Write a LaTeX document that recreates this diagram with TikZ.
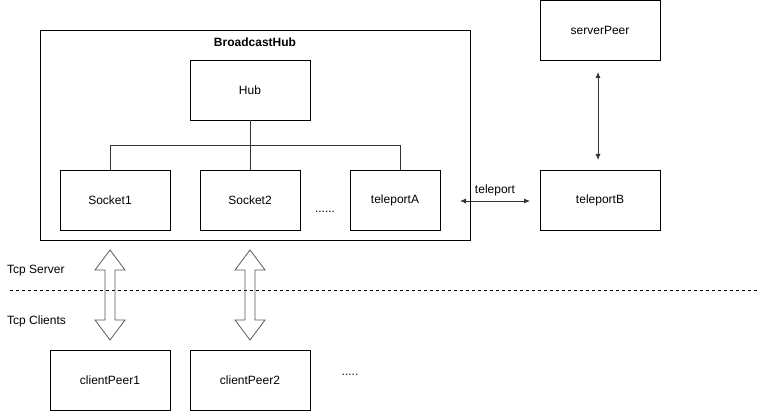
\documentclass[tikz,border=0pt]{standalone}
\usepackage{fontspec}
\setmainfont{Liberation Sans}
\usetikzlibrary{arrows.meta}
\begin{document}
\begin{tikzpicture}[x=1pt,y=-1pt,
  box/.style={draw=black,line width=0.8pt,minimum width=#1,minimum height=60pt,inner sep=0pt,font=\fontsize{12}{14}\selectfont},
  box/.default=120pt,
  lbl/.style={font=\fontsize{12}{14}\selectfont,inner sep=0pt},
  conn/.style={line width=0.8pt,draw=black!80},
  blockarrow/.style={line width=0.8pt,draw=black!65,line join=miter},
  tip/.style={conn,{Latex[length=6pt,width=5pt]}-{Latex[length=6pt,width=5pt]}}]
\useasboundingbox (0,0) rectangle (762,411);
\node[draw=black,line width=0.8pt,minimum width=430pt,minimum height=210pt,inner sep=0pt] (bh) at (255,135) {};
\node[lbl,font=\bfseries\fontsize{12}{14}\selectfont] (bhl) at (255,42) {BroadcastHub};
\node[box] (hub) at (250,90) {Hub};
\node[box=110pt] (s1) at (115,200) {\hspace*{-10pt}Socket1};
\node[box=100pt] (s2) at (250,200) {Socket2};
\node[box=90pt] (ta) at (395,200) {teleportA};
\node[lbl] (dots1) at (325,212) {......};
\node[box] (tb) at (600,200) {teleportB};
\node[box] (sp) at (600,30) {serverPeer};
\node[box] (c1) at (110,380) {clientPeer1};
\node[box] (c2) at (250,380) {clientPeer2};
\node[lbl] (dots2) at (350,375) {.....};
\node[lbl,anchor=west] (ts) at (7,271) {Tcp Server};
\node[lbl,anchor=west] (tc) at (7,321) {Tcp Clients};
\coordinate (j) at (250,145);
\coordinate (jl) at (110,145);
\coordinate (jr) at (400,145);
\draw[conn] (hub.south) -- (j);
\draw[conn] (jl) -- (jr);
\draw[conn] (jl) -- (jl |- s1.north);
\draw[conn] (j) -- (s2.north);
\draw[conn] (jr) -- (jr |- ta.north);
\coordinate (l1) at (10,290);
\coordinate (l2) at (758,290);
\draw[line width=0.8pt,dash pattern=on 3pt off 3pt] (l1) -- (l2);
\coordinate (ta1) at (460,201);
\coordinate (tb1) at (530,201);
\draw[tip] (ta1) -- node[lbl,above=5pt] {teleport} (tb1);
\coordinate (sp1) at (598,72);
\coordinate (tb2) at (598,160);
\draw[tip] (sp1) -- (tb2);
\foreach \cx in {110,250}{
  \draw[blockarrow]
    (\cx,250) -- (\cx+15,270) -- (\cx+5,270) -- (\cx+5,320) -- (\cx+15,320) -- (\cx,340)
    -- (\cx-15,320) -- (\cx-5,320) -- (\cx-5,270) -- (\cx-15,270) -- cycle;
}
\end{tikzpicture}
\end{document}
